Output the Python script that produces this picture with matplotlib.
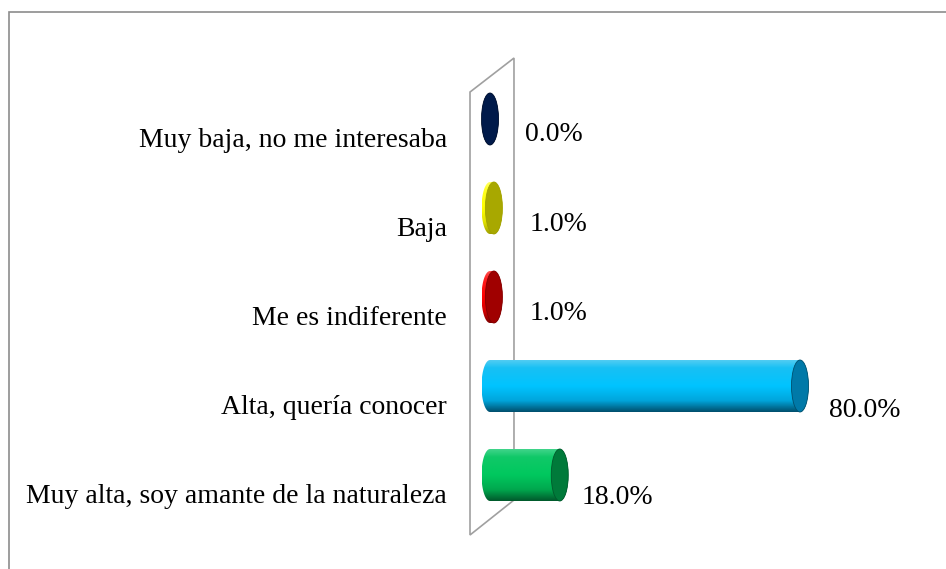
import numpy as np
import matplotlib
matplotlib.use("Agg")
import matplotlib.pyplot as plt
from matplotlib.patches import Ellipse, PathPatch, Rectangle, Polygon
from matplotlib.path import Path
from matplotlib.colors import LinearSegmentedColormap

categories = ["Muy baja, no me interesaba", "Baja", "Me es indiferente",
              "Alta, quería conocer", "Muy alta, soy amante de la naturaleza"]
values = [0.0, 1.0, 1.0, 80.0, 18.0]
labels = ["0.0%", "1.0%", "1.0%", "80.0%", "18.0%"]

# body gradient (top -> bottom) and end cap colour for each bar
stops = [0.0, 0.15, 0.5, 0.78, 1.0]
body_colors = [
    ["#2a4a8a", "#183a7a", "#0a2a6a", "#001a4a", "#00102e"],
    ["#ffff60", "#ffff20", "#ffff00", "#e0e000", "#a0a000"],
    ["#ff5050", "#ff2020", "#ff0000", "#d00000", "#800000"],
    ["#50ccf2", "#18c0f4", "#00c4ff", "#00a6dc", "#00506e"],
    ["#40d48a", "#10c868", "#00c85e", "#00a84e", "#005a2c"],
]
cap_colors = ["#001a4a", "#a8a800", "#a00000", "#0079a8", "#007a3a"]
# label offsets from the bar end (x in %, y in category units)
label_dx = [16.6, 16.6, 16.6, 16.6, 15.0]
label_dy = [0.17, 0.18, 0.18, 0.27, 0.25]

plt.rcParams['font.family'] = ['Liberation Serif', 'DejaVu Serif']

fig = plt.figure(figsize=(9.46, 5.69), dpi=100)
ax = fig.add_axes([0, 0, 1, 1])
ax.set_axis_off()

px_x = 3.875   # pixels per percent
px_y = 89.0    # pixels per category
x0_px, y0_px = 490.0, 119.0
xlim = (-x0_px / px_x, (946 - x0_px) / px_x)
ylim = ((569 - y0_px) / px_y, -y0_px / px_y)

rx = 8.5 / px_x      # cap half width
h = 26.0 / px_y      # cylinder half height

# back wall (thin 3d floor plane)
wall = Polygon([[-5.16, -0.303], [6.19, -0.685], [6.19, 4.281], [-5.16, 4.674]],
               closed=True, fill=False, edgecolor="#a0a0a0", lw=1.2, zorder=1)
ax.add_patch(wall)

t = np.linspace(np.pi / 2, 3 * np.pi / 2, 40)
for i, (v, bc, cc) in enumerate(zip(values, body_colors, cap_colors)):
    # outline: left half ellipse, bottom line, right half ellipse, back to top
    left = np.column_stack([rx * np.cos(t), i - h * np.sin(t)])
    right = np.column_stack([v - rx * np.cos(t), i + h * np.sin(t)])
    verts = np.vstack([left, right, left[:1]])
    patch = PathPatch(Path(verts), facecolor="none", edgecolor="none")
    ax.add_patch(patch)
    cmap = LinearSegmentedColormap.from_list("c%d" % i, list(zip(stops, bc)))
    grad = np.linspace(0, 1, 100).reshape(-1, 1)
    im = ax.imshow(grad, cmap=cmap, aspect="auto", interpolation="bilinear",
                   extent=[-rx, v + rx, i + h, i - h], zorder=2)
    im.set_clip_path(patch)
    cap = Ellipse((v, i), width=2 * rx, height=2 * h, facecolor=cc,
                  edgecolor=bc[4], lw=0.6, zorder=3)
    ax.add_patch(cap)
    ax.text(v + label_dx[i], i + label_dy[i], labels[i],
            ha="center", va="center", fontsize=20, color="black", zorder=4)
    ax.text(-11.1, i + 0.245, categories[i], ha="right", va="center",
            fontsize=20, color="black", zorder=4)

ax.set_xlim(*xlim)
ax.set_ylim(*ylim)

# outer chart border (left and top visible)
fig.patches.append(Rectangle((9 / 946, -0.1), 1.2, 1.1 - 12 / 569,
                             transform=fig.transFigure, fill=False,
                             edgecolor="#8c8c8c", lw=1.2))

fig.savefig("out.png", dpi=100)
